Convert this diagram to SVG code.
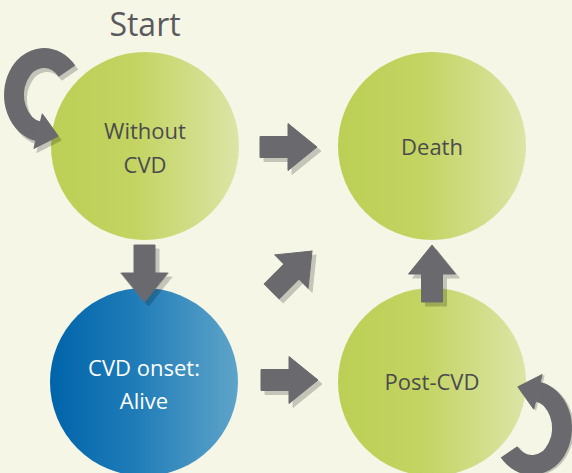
<svg xmlns="http://www.w3.org/2000/svg" width="572" height="473" viewBox="0 0 572 473">
  <defs>
    <linearGradient id="gGreen" x1="0" y1="0" x2="1" y2="0">
      <stop offset="0" stop-color="#bccf55"/>
      <stop offset="0.45" stop-color="#c3d462"/>
      <stop offset="1" stop-color="#dce5a6"/>
    </linearGradient>
    <linearGradient id="gBlue" x1="0" y1="0" x2="1" y2="0">
      <stop offset="0" stop-color="#0064aa"/>
      <stop offset="0.45" stop-color="#1f7cb8"/>
      <stop offset="1" stop-color="#5ea4c9"/>
    </linearGradient>
    <path id="arrow" d="M-57,-10.5 H-29 V-23.5 L0,0 L-29,23.5 V10.5 H-57 Z"/>
    <g id="loop">
      <path d="M23,-23.8 A30,37 0 1 0 -5.7,36.3" fill="none" stroke-width="20"/>
      <polygon points="-1.7,18.8 14.2,41.2 -10.1,53.5"/>
    </g>
  </defs>
  <style>
    .node text { font-family: "Open Sans", "Noto Sans", sans-serif; font-size: 22px; text-anchor: middle; }
    .dark { fill: #4b4b4e; }
    .light { fill: #ffffff; }
    .shadow { opacity: 0.2; fill: #000; stroke: #000; }
    .arr { fill: #6a6a6e; stroke: #6a6a6e; }
  </style>
  <rect width="572" height="473" fill="#f6f6e7"/>
  <text x="145" y="36" font-family="Open Sans, Noto Sans, sans-serif" font-size="32" fill="#5a5a5e" text-anchor="middle">Start</text>

  <g id="node-without-cvd" class="node">
    <circle cx="145" cy="146" r="94" fill="url(#gGreen)"/>
    <text class="dark" x="145" y="139">Without</text>
    <text class="dark" x="145" y="173">CVD</text>
  </g>
  <g id="node-death" class="node">
    <circle cx="432" cy="146" r="94" fill="url(#gGreen)"/>
    <text class="dark" x="432" y="155">Death</text>
  </g>
  <g id="node-cvd-onset" class="node">
    <circle cx="144" cy="382" r="94" fill="url(#gBlue)"/>
    <text class="light" x="144" y="376">CVD onset:</text>
    <text class="light" x="144" y="409">Alive</text>
  </g>
  <g id="node-post-cvd" class="node">
    <circle cx="432" cy="382" r="94" fill="url(#gGreen)"/>
    <text class="dark" x="432" y="390">Post-CVD</text>
  </g>

  <g id="connectors">
    <g class="shadow">
      <use href="#loop" transform="translate(47,99)"/>
      <use href="#loop" transform="translate(534,429) rotate(180)"/>
      <use href="#arrow" transform="translate(321,151)"/>
      <use href="#arrow" transform="translate(322,384)"/>
      <use href="#arrow" transform="translate(148.5,306) rotate(90)"/>
      <use href="#arrow" transform="translate(436,249) rotate(-90)"/>
      <use href="#arrow" transform="translate(316,255) rotate(-45)"/>
    </g>
    <g class="arr">
      <use href="#loop" transform="translate(44,95)"/>
      <use href="#loop" transform="translate(532,428) rotate(180)"/>
      <use href="#arrow" transform="translate(317,147)"/>
      <use href="#arrow" transform="translate(318,380)"/>
      <use href="#arrow" transform="translate(144.5,302) rotate(90)"/>
      <use href="#arrow" transform="translate(432,245) rotate(-90)"/>
      <use href="#arrow" transform="translate(312,251) rotate(-45)"/>
    </g>
  </g>
</svg>
